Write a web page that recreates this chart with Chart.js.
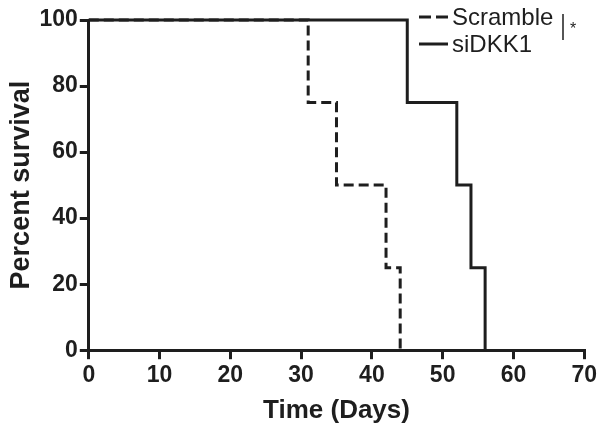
<!DOCTYPE html>
<html>
<head>
<meta charset="utf-8">
<script src="https://cdn.jsdelivr.net/npm/chart.js@4.4.0/dist/chart.umd.min.js"></script>
<style>
  html, body { margin: 0; padding: 0; background: #fff; }
  #wrap { width: 600px; height: 436px; position: relative; }
</style>
</head>
<body>
<div id="wrap"><canvas id="survivalChart"></canvas></div>
<script>
// Kaplan-Meier step points (day of each drop, percent surviving after it)
var scrambleDays = [0, 31, 35, 42, 44];
var scrambleSurvival = [100, 75, 50, 25, 0];
var siDKK1Days = [0, 45, 52, 54, 56];
var siDKK1Survival = [100, 75, 50, 25, 0];
var seriesLabels = ['Scramble', 'siDKK1'];
var xTicks = [0, 10, 20, 30, 40, 50, 60, 70];
var yTicks = [0, 20, 40, 60, 80, 100];

var ink = '#1e1e1e';
Chart.defaults.font.family = '"Liberation Sans", Arial, sans-serif';
Chart.defaults.color = ink;

function toPoints(xs, ys) {
  return xs.map(function(x, i) { return { x: x, y: ys[i] }; });
}

// legend drawn by hand, top-right, with the significance bracket
var legendPlugin = {
  id: 'kmLegend',
  afterDraw: function(chart) {
    var ctx = chart.ctx;
    ctx.save();
    ctx.font = '24px "Liberation Sans", Arial, sans-serif';
    ctx.fillStyle = ink;
    ctx.strokeStyle = ink;
    ctx.lineWidth = 3;
    ctx.textBaseline = 'middle';
    var rows = [17, 44];
    chart.data.datasets.forEach(function(ds, i) {
      ctx.setLineDash(ds.borderDash ? [12, 5] : []);
      ctx.beginPath();
      ctx.moveTo(419, rows[i]);
      ctx.lineTo(448, rows[i]);
      ctx.stroke();
      ctx.setLineDash([]);
      ctx.fillText(ds.label, 452, rows[i] + 1);
    });
    ctx.lineWidth = 1.5;
    ctx.beginPath();
    ctx.moveTo(563, 14);
    ctx.lineTo(563, 40);
    ctx.stroke();
    ctx.font = '16px "Liberation Sans", Arial, sans-serif';
    ctx.fillText('*', 570, 30);
    ctx.restore();
  }
};

var ctx = document.getElementById('survivalChart');
new Chart(ctx, {
  type: 'line',
  data: {
    datasets: [{
      label: seriesLabels[0],
      data: toPoints(scrambleDays, scrambleSurvival),
      stepped: 'before',
      borderColor: ink,
      borderWidth: 3,
      borderDash: [10, 5],
      pointRadius: 0,
      fill: false,
      order: 1
    }, {
      label: seriesLabels[1],
      data: toPoints(siDKK1Days, siDKK1Survival),
      stepped: 'before',
      borderColor: ink,
      borderWidth: 3,
      pointRadius: 0,
      fill: false,
      order: 0
    }]
  },
  options: {
    responsive: true,
    maintainAspectRatio: false,
    animation: false,
    clip: false,
    layout: { padding: { left: 0, right: 4, top: 20, bottom: 10 } },
    plugins: {
      legend: { display: false },
      tooltip: { enabled: false }
    },
    scales: {
      x: {
        type: 'linear',
        min: 0,
        max: 70,
        afterBuildTicks: function(axis) {
          axis.ticks = xTicks.map(function(v) { return { value: v }; });
        },
        grid: { drawOnChartArea: false, drawTicks: true, tickLength: 9, color: ink, lineWidth: 3 },
        border: { color: ink, width: 3 },
        ticks: { font: { size: 23, weight: 'bold' }, color: ink, padding: 3, maxRotation: 0 },
        title: { display: true, text: 'Time (Days)', font: { size: 26, weight: 'bold' }, color: ink, padding: { top: 2, bottom: 0 } }
      },
      y: {
        type: 'linear',
        min: 0,
        max: 100,
        afterBuildTicks: function(axis) {
          axis.ticks = yTicks.map(function(v) { return { value: v }; });
        },
        grid: { drawOnChartArea: false, drawTicks: true, tickLength: 9, color: ink, lineWidth: 3 },
        border: { color: ink, width: 3 },
        ticks: { font: { size: 23, weight: 'bold' }, color: ink, padding: 2 },
        title: { display: true, text: 'Percent survival', font: { size: 27, weight: 'bold' }, color: ink, padding: { top: 5, bottom: 0 } }
      }
    }
  },
  plugins: [legendPlugin]
});
</script>
</body>
</html>
